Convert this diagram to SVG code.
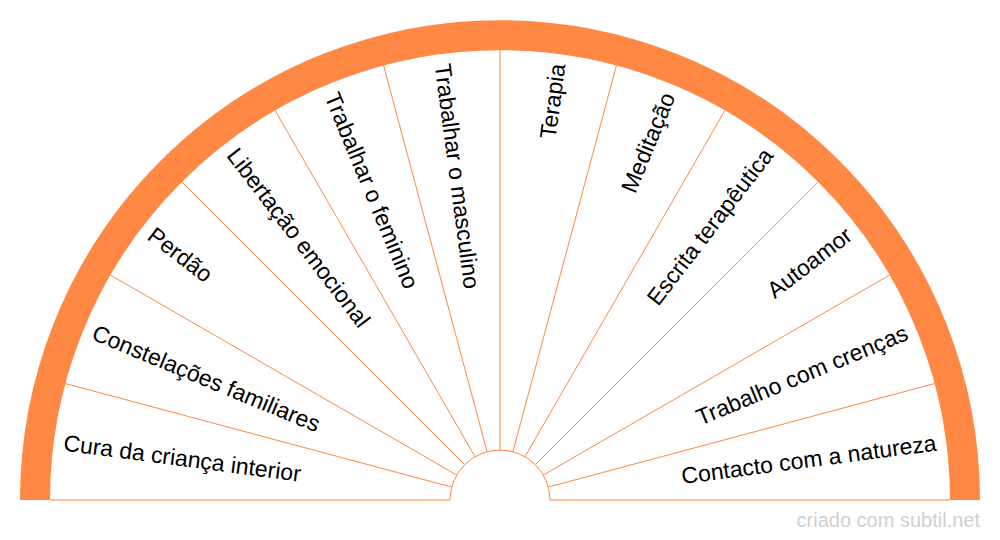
<svg xmlns="http://www.w3.org/2000/svg" width="1000" height="540" viewBox="0 0 1000 540">
<style>
.sep{stroke:#ff8844;stroke-width:1;fill:none}
.ring{stroke:#ff8844;stroke-width:30;fill:none}
.lbl{font-family:"Liberation Sans",Arial,sans-serif;font-size:23px;fill:#000;dominant-baseline:central}
.l{text-anchor:start}
.r{text-anchor:end}
.wm{font-family:"Liberation Sans",Arial,sans-serif;font-size:20px;fill:#d0d0d0;text-anchor:end}
</style>
<rect width="1000" height="540" fill="#fff"/>
<g id="connectors">
<path class="sep" d="M50,500 H450 A50,50 0 0 1 550,500 H950"/>
<path class="sep" d="M451.70,487.06 L65.33,383.53 M456.70,475.00 L110.29,275.00 M464.64,464.64 L181.80,181.80 M475.00,456.70 L275.00,110.29 M487.06,451.70 L383.53,65.33 M500,450 L500,50 M512.94,451.70 L616.47,65.33 M525.00,456.70 L725.00,110.29 M543.30,475.00 L889.71,275.00 M548.30,487.06 L934.67,383.53"/>
<path class="sep" d="M535.40,464.70 L818.30,181.95"/>
</g>
<g id="ring"><path class="ring" d="M35,500 A465,465 0 0 1 965,500"/></g>
<g id="n1"><text class="lbl l" transform="translate(63.77,442.57) rotate(7.5)">Cura da criança interior</text></g>
<g id="n2"><text class="lbl l" transform="translate(93.49,331.62) rotate(22.5)">Constelações familiares</text></g>
<g id="n3"><text class="lbl l" transform="translate(150.92,232.15) rotate(37.5)">Perdão</text></g>
<g id="n4"><text class="lbl l" transform="translate(232.15,150.92) rotate(52.5)">Libertação emocional</text></g>
<g id="n5"><text class="lbl l" transform="translate(331.62,93.49) rotate(67.5)">Trabalhar o feminino</text></g>
<g id="n6"><text class="lbl l" transform="translate(442.57,63.77) rotate(82.5)">Trabalhar o masculino</text></g>
<g id="n7"><text class="lbl r" transform="translate(557.43,63.77) rotate(-82.5)">Terapia</text></g>
<g id="n8"><text class="lbl r" transform="translate(668.38,93.49) rotate(-67.5)">Meditação</text></g>
<g id="n9"><text class="lbl r" transform="translate(767.85,150.92) rotate(-52.5)">Escrita terapêutica</text></g>
<g id="n10"><text class="lbl r" transform="translate(849.08,232.15) rotate(-37.5)">Autoamor</text></g>
<g id="n11"><text class="lbl r" transform="translate(906.51,331.62) rotate(-22.5)">Trabalho com crenças</text></g>
<g id="n12"><text class="lbl r" transform="translate(936.23,442.57) rotate(-7.5)">Contacto com a natureza</text></g>
<text class="wm" x="980" y="527">criado com subtil.net</text>
</svg>
